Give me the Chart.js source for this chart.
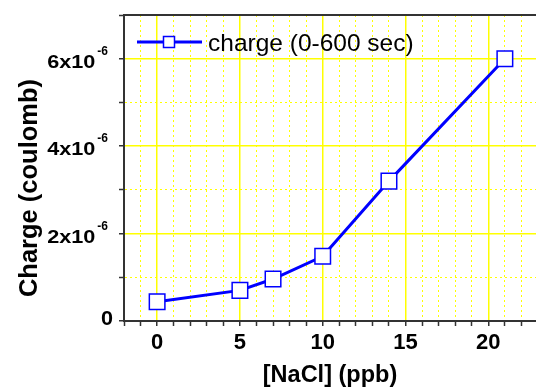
<!DOCTYPE html>
<html>
<head>
<meta charset="utf-8">
<script src="https://cdn.jsdelivr.net/npm/chart.js@4"></script>
<style>
  html, body { margin: 0; padding: 0; background: #fff; overflow: hidden; }
  #wrap { width: 536px; height: 387px; overflow: hidden; }
</style>
</head>
<body>
<div id="wrap"><canvas id="myChart" width="538" height="387"></canvas></div>
<script>
// datos del grafico
const concentraciones = [0, 5, 7, 10, 14, 21];          // [NaCl] (ppb)
const carga = [0.44e-6, 0.70e-6, 0.96e-6, 1.48e-6, 3.20e-6, 6.00e-6]; // coulomb
const serieNombre = 'charge (0-600 sec)';
const yTicksMayores = [0, 2e-6, 4e-6, 6e-6];
const yTicksTexto = ['0', '2x10', '4x10', '6x10'];
const yExponente = '-6';

const ctx = document.getElementById('myChart').getContext('2d');
const AZUL = '#0000ff';
const AMARILLO = '#ffff00';
const EJE = '#333333';
const FUENTE = '"Liberation Sans", Arial, sans-serif';

// texto alineado a la derecha, estirado en horizontal
function textoEstirado(c, txt, xDer, y, sx) {
    c.save();
    c.translate(xDer, y);
    c.scale(sx, 1);
    c.textAlign = 'right';
    c.fillText(txt, 0, 0);
    const w = c.measureText(txt).width * sx;
    c.restore();
    return w;
}

// Dibuja etiquetas del eje Y con exponente, titulos, leyenda y borde superior
const extras = {
    id: 'extras',
    afterDraw(chart) {
        const c = chart.ctx;
        const y = chart.scales.y;
        const a = chart.chartArea;
        c.save();

        // borde superior
        c.strokeStyle = EJE;
        c.lineWidth = 2;
        c.beginPath();
        c.moveTo(a.left - 1, a.top);
        c.lineTo(a.right, a.top);
        c.stroke();

        // etiquetas eje Y
        c.fillStyle = '#000';
        c.textBaseline = 'alphabetic';
        yTicksMayores.forEach((v, i) => {
            const py = y.getPixelForValue(v);
            if (v === 0) {
                c.font = 'bold 20px ' + FUENTE;
                textoEstirado(c, yTicksTexto[i], 113, py + 4, 1.08);
            } else {
                c.font = 'bold 12px ' + FUENTE;
                const wExp = textoEstirado(c, yExponente, 108, py - 4, 1);
                c.font = 'bold 19px ' + FUENTE;
                textoEstirado(c, yTicksTexto[i], 108 - wExp - 2, py + 9, 1.14);
            }
        });

        // titulos de ejes
        c.font = 'bold 23.5px ' + FUENTE;
        c.textAlign = 'center';
        c.fillText('[NaCl] (ppb)', 330, 382);
        c.save();
        c.translate(37, 188);
        c.rotate(-Math.PI / 2);
        c.font = 'bold 25.5px ' + FUENTE;
        c.fillText('Charge (coulomb)', 0, 0);
        c.restore();

        // leyenda
        const ly = 42;
        c.strokeStyle = AZUL;
        c.lineWidth = 3;
        c.beginPath();
        c.moveTo(137, ly);
        c.lineTo(202, ly);
        c.stroke();
        c.fillStyle = '#fff';
        c.lineWidth = 1.5;
        c.fillRect(163.5, ly - 5.5, 11, 11);
        c.strokeRect(163.5, ly - 5.5, 11, 11);
        c.fillStyle = '#000';
        c.font = '24.5px ' + FUENTE;
        c.textAlign = 'left';
        c.fillText(chart.data.datasets[0].label, 208, 51);

        c.restore();
    }
};

new Chart(ctx, {
    type: 'line',
    data: {
        datasets: [{
            label: serieNombre,
            data: concentraciones.map((x, i) => ({ x: x, y: carga[i] })),
            borderColor: AZUL,
            borderWidth: 3,
            backgroundColor: '#fff',
            pointStyle: 'rect',
            pointRadius: 11,
            pointHoverRadius: 11,
            pointBorderColor: AZUL,
            pointBorderWidth: 1.5,
            pointBackgroundColor: '#fff',
            tension: 0
        }]
    },
    options: {
        responsive: false,
        animation: false,
        layout: { autoPadding: false, padding: { top: 15, right: 0, left: 0, bottom: 0 } },
        plugins: {
            legend: { display: false },
            tooltip: { enabled: false }
        },
        scales: {
            x: {
                type: 'linear',
                min: -2,
                max: 23,
                afterFit: s => { s.height = 66; s.paddingLeft = 0; s.paddingRight = 0; },
                ticks: {
                    stepSize: 1,
                    autoSkip: false,
                    maxRotation: 0,
                    padding: 4,
                    color: '#000',
                    font: { family: FUENTE, size: 22, weight: 'bold' },
                    callback: v => (v % 5 === 0 ? String(v) : '')
                },
                grid: {
                    color: AMARILLO,
                    lineWidth: c => (c.tick && c.tick.value % 5 === 0 ? 1.5 : 1),
                    tickColor: EJE,
                    tickLength: 5,
                    tickWidth: 1.5
                },
                border: {
                    color: EJE,
                    width: 2,
                    dash: c => (c.tick && c.tick.value % 5 !== 0 ? [2, 3] : [])
                }
            },
            y: {
                min: 0,
                max: 7e-6,
                afterFit: s => { s.width = 124; s.paddingTop = 0; s.paddingBottom = 0; },
                ticks: {
                    stepSize: 1e-6,
                    display: false
                },
                grid: {
                    color: AMARILLO,
                    lineWidth: c => (c.tick && Math.round(c.tick.value * 1e6) % 2 === 0 ? 1.5 : 1),
                    tickColor: EJE,
                    tickLength: 5,
                    tickWidth: 1.5
                },
                border: {
                    color: EJE,
                    width: 2,
                    dash: c => (c.tick && Math.round(c.tick.value * 1e6) % 2 !== 0 ? [2, 3] : [])
                }
            }
        }
    },
    plugins: [extras]
});
</script>
</body>
</html>
